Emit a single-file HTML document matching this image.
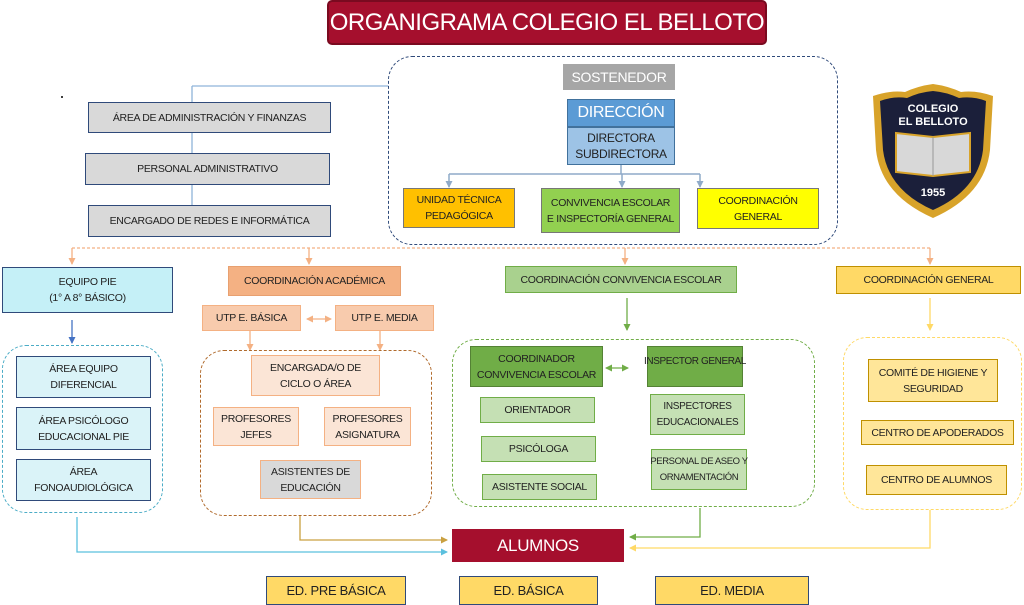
<!DOCTYPE html>
<html><head><meta charset="utf-8"><style>
body{margin:0;width:1024px;height:605px;background:#fff;position:relative;overflow:hidden;font-family:"Liberation Sans",sans-serif}
.b{position:absolute;display:flex;align-items:center;justify-content:center;text-align:center;font-size:10.5px;letter-spacing:-0.3px;line-height:16px;color:#222;box-sizing:border-box;white-space:nowrap}
.d{position:absolute;box-sizing:border-box;border-radius:24px}
svg{position:absolute;left:0;top:0}
</style></head><body>
<svg width="1024" height="605">
<defs>
<marker id="a" markerUnits="userSpaceOnUse" markerWidth="7" markerHeight="7" refX="6" refY="3.5" orient="auto-start-reverse"><path d="M0,0L7,3.5L0,7z" fill="context-stroke"/></marker>
</defs>
<line x1="192" y1="86" x2="388" y2="86" stroke="#8fb4d9" stroke-width="1.3"/>
<line x1="192" y1="86" x2="192" y2="237" stroke="#8fb4d9" stroke-width="1.3"/>
<circle cx="62" cy="97" r="1" fill="#000"/>
<g stroke="#8faac8" stroke-width="1.5" fill="none">
<line x1="621" y1="165" x2="621" y2="174"/>
<line x1="449" y1="174" x2="700" y2="174"/>
<line x1="449" y1="174" x2="449" y2="187" marker-end="url(#a)"/>
<line x1="622" y1="174" x2="622" y2="187" marker-end="url(#a)"/>
<line x1="700" y1="174" x2="700" y2="187" marker-end="url(#a)"/>
</g>
<g stroke="#f4b183" stroke-width="1.3" fill="none">
<line x1="72" y1="248" x2="930" y2="248" stroke-dasharray="3,2"/>
<line x1="72" y1="248" x2="72" y2="264" marker-end="url(#a)"/>
<line x1="309" y1="248" x2="309" y2="264" marker-end="url(#a)"/>
<line x1="625" y1="248" x2="625" y2="264" marker-end="url(#a)"/>
<line x1="930" y1="248" x2="930" y2="264" marker-end="url(#a)"/>
<line x1="250" y1="331" x2="250" y2="350" marker-end="url(#a)"/>
<line x1="380" y1="331" x2="380" y2="350" marker-end="url(#a)"/>
<line x1="307" y1="319" x2="331" y2="319" marker-start="url(#a)" marker-end="url(#a)"/>
</g>
<line x1="72" y1="320" x2="72" y2="343" stroke="#4472c4" stroke-width="1.3" marker-end="url(#a)"/>
<g stroke="#70ad47" stroke-width="1.3" fill="none">
<line x1="627" y1="298" x2="627" y2="330" marker-end="url(#a)"/>
<line x1="606" y1="368" x2="628" y2="368" marker-start="url(#a)" marker-end="url(#a)"/>
<polyline points="700,508 700,537 630,537" marker-end="url(#a)"/>
</g>
<line x1="930" y1="298" x2="930" y2="330" stroke="#ffd966" stroke-width="1.3" marker-end="url(#a)"/>
<polyline points="77,517 77,552 447,552" stroke="#5bc0de" stroke-width="1.3" fill="none" marker-end="url(#a)"/>
<polyline points="300,516 300,540 447,540" stroke="#c9a040" stroke-width="1.3" fill="none" marker-end="url(#a)"/>
<polyline points="930,510 930,548 630,548" stroke="#ffd966" stroke-width="1.3" fill="none" marker-end="url(#a)"/>
<path d="M873,96 Q890,90 905,92 Q918,86 933,84 Q948,86 961,92 Q976,90 993,96 L990,150 Q985,195 933,218 Q881,195 876,150 Z" fill="#d8a32a"/>
<path d="M880,101 Q893,96 907,98 Q920,92 933,91 Q946,92 959,98 Q973,96 986,101 L983,150 Q978,190 933,210 Q888,190 883,150 Z" fill="#1b1f3a"/>
<path d="M896,133 L933,137 L970,133 L970,172 L933,176 L896,172 Z" fill="#d8d8d8" stroke="#d8a32a" stroke-width="2"/>
<line x1="933" y1="137" x2="933" y2="176" stroke="#999"/>
<text x="933" y="112" fill="#fff" font-size="11" font-weight="bold" text-anchor="middle" font-family="Liberation Sans">COLEGIO</text>
<text x="933" y="125" fill="#fff" font-size="11" font-weight="bold" text-anchor="middle" font-family="Liberation Sans">EL BELLOTO</text>
<text x="933" y="196" fill="#fff" font-size="11" font-weight="bold" text-anchor="middle" font-family="Liberation Sans">1955</text>
</svg>

<div class="b" style="left:327px;top:0;width:440px;height:45px;background:#a50f2d;border:2px solid #7a0a20;border-radius:5px;color:#fff;font-size:24px;letter-spacing:-0.5px">ORGANIGRAMA COLEGIO EL BELLOTO</div>

<div class="d" style="left:388px;top:56px;width:450px;height:189px;border:1.3px dashed #2f4a7a"></div>
<div class="b" style="left:563px;top:64px;width:112px;height:26px;background:#a6a6a6;color:#fff;font-size:14px">SOSTENEDOR</div>
<div class="b" style="left:567px;top:99px;width:108px;height:28px;background:#5b9bd5;color:#fff;font-size:16px;border:1px solid #41719c">DIRECCIÓN</div>
<div class="b" style="left:567px;top:127px;width:108px;height:38px;background:#9dc3e6;border:1px solid #41719c;font-size:12px">DIRECTORA<br>SUBDIRECTORA</div>
<div class="b" style="left:403px;top:188px;width:112px;height:40px;background:#ffc000;border:1px solid #777">UNIDAD TÉCNICA<br>PEDAGÓGICA</div>
<div class="b" style="left:541px;top:188px;width:139px;height:45px;background:#92d050;border:1px solid #777">CONVIVENCIA ESCOLAR<br>E INSPECTORÍA GENERAL</div>
<div class="b" style="left:697px;top:188px;width:122px;height:41px;background:#ffff00;border:1px solid #777">COORDINACIÓN<br>GENERAL</div>

<div class="b" style="left:88px;top:102px;width:243px;height:31px;background:#d9d9d9;border:1px solid #2f4a7a">ÁREA DE ADMINISTRACIÓN Y FINANZAS</div>
<div class="b" style="left:85px;top:153px;width:245px;height:32px;background:#d9d9d9;border:1px solid #2f4a7a">PERSONAL ADMINISTRATIVO</div>
<div class="b" style="left:88px;top:205px;width:243px;height:32px;background:#d9d9d9;border:1px solid #2f4a7a">ENCARGADO DE REDES E INFORMÁTICA</div>

<div class="b" style="left:2px;top:267px;width:171px;height:46px;background:#c5f0f7;border:1.5px solid #2f4a7a">EQUIPO PIE<br>(1° A 8° BÁSICO)</div>
<div class="d" style="left:2px;top:345px;width:161px;height:168px;border:1.3px dashed #4bacc6"></div>
<div class="b" style="left:16px;top:356px;width:135px;height:42px;background:#daf3f8;border:1.5px solid #2f4a7a">ÁREA EQUIPO<br>DIFERENCIAL</div>
<div class="b" style="left:16px;top:407px;width:135px;height:43px;background:#daf3f8;border:1.5px solid #2f4a7a">ÁREA PSICÓLOGO<br>EDUCACIONAL PIE</div>
<div class="b" style="left:16px;top:459px;width:135px;height:42px;background:#daf3f8;border:1.5px solid #2f4a7a">ÁREA<br>FONOAUDIOLÓGICA</div>

<div class="b" style="left:228px;top:266px;width:173px;height:30px;background:#f4b183;border:1px solid #e8a070">COORDINACIÓN ACADÉMICA</div>
<div class="b" style="left:202px;top:305px;width:99px;height:26px;background:#f8cbad;border:1px solid #f4b183">UTP E. BÁSICA</div>
<div class="b" style="left:335px;top:305px;width:99px;height:26px;background:#f8cbad;border:1px solid #f4b183">UTP E. MEDIA</div>
<div class="d" style="left:200px;top:350px;width:232px;height:166px;border:1.3px dashed #b06a2c"></div>
<div class="b" style="left:251px;top:355px;width:129px;height:41px;background:#fbe5d6;border:1.5px solid #f4b183">ENCARGADA/O DE<br>CICLO O ÁREA</div>
<div class="b" style="left:213px;top:407px;width:86px;height:39px;background:#fbe5d6;border:1.5px solid #f4b183">PROFESORES<br>JEFES</div>
<div class="b" style="left:324px;top:407px;width:87px;height:39px;background:#fbe5d6;border:1.5px solid #f4b183">PROFESORES<br>ASIGNATURA</div>
<div class="b" style="left:260px;top:460px;width:101px;height:39px;background:#d9d9d9;border:1.5px solid #f4b183">ASISTENTES DE<br>EDUCACIÓN</div>

<div class="b" style="left:505px;top:266px;width:232px;height:27px;background:#a9d18e;border:1.5px solid #70ad47">COORDINACIÓN CONVIVENCIA ESCOLAR</div>
<div class="d" style="left:452px;top:339px;width:363px;height:168px;border:1.3px dashed #70ad47"></div>
<div class="b" style="left:470px;top:346px;width:133px;height:41px;background:#70ad47;border:1.5px solid #548235">COORDINADOR<br>CONVIVENCIA ESCOLAR</div>
<div class="b" style="left:647px;top:346px;width:96px;height:41px;background:#70ad47;border:1.5px solid #548235;align-items:flex-start;padding-top:7px;font-size:10px;letter-spacing:-0.4px">INSPECTOR GENERAL</div>
<div class="b" style="left:480px;top:397px;width:115px;height:26px;background:#c5e0b4;border:1.5px solid #70ad47">ORIENTADOR</div>
<div class="b" style="left:481px;top:436px;width:115px;height:26px;background:#c5e0b4;border:1.5px solid #70ad47">PSICÓLOGA</div>
<div class="b" style="left:482px;top:474px;width:115px;height:26px;background:#c5e0b4;border:1.5px solid #70ad47">ASISTENTE SOCIAL</div>
<div class="b" style="left:650px;top:394px;width:95px;height:41px;background:#c5e0b4;border:1.5px solid #70ad47;font-size:10px">INSPECTORES<br>EDUCACIONALES</div>
<div class="b" style="left:651px;top:449px;width:96px;height:41px;background:#c5e0b4;border:1.5px solid #70ad47;font-size:9.5px;letter-spacing:-0.4px">PERSONAL DE ASEO Y<br>ORNAMENTACIÓN</div>

<div class="b" style="left:836px;top:266px;width:185px;height:28px;background:#ffd966;border:1.5px solid #bf9000">COORDINACIÓN GENERAL</div>
<div class="d" style="left:843px;top:337px;width:179px;height:173px;border:1.3px dashed #ffd966"></div>
<div class="b" style="left:868px;top:359px;width:130px;height:43px;background:#ffe699;border:1.5px solid #bf9000">COMITÉ DE HIGIENE Y<br>SEGURIDAD</div>
<div class="b" style="left:861px;top:420px;width:153px;height:25px;background:#ffe699;border:1.5px solid #bf9000">CENTRO DE APODERADOS</div>
<div class="b" style="left:866px;top:465px;width:141px;height:30px;background:#ffe699;border:1.5px solid #bf9000">CENTRO DE ALUMNOS</div>

<div class="b" style="left:452px;top:529px;width:172px;height:33px;background:#a50f2d;color:#fff;font-size:17px">ALUMNOS</div>
<div class="b" style="left:266px;top:576px;width:140px;height:29px;background:#ffd966;border:1.5px solid #2f4a7a;font-size:13px">ED. PRE BÁSICA</div>
<div class="b" style="left:459px;top:576px;width:139px;height:29px;background:#ffd966;border:1.5px solid #2f4a7a;font-size:13px">ED. BÁSICA</div>
<div class="b" style="left:655px;top:576px;width:154px;height:29px;background:#ffd966;border:1.5px solid #2f4a7a;font-size:13px">ED. MEDIA</div>
</body></html>
